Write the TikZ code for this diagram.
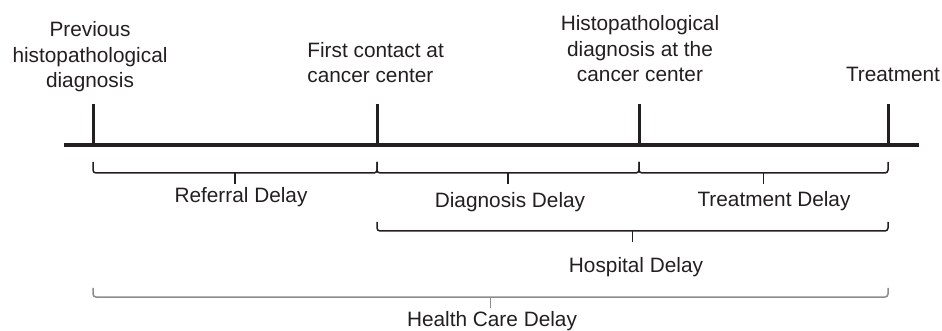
\documentclass[tikz,border=0pt]{standalone}
\usepackage{fontspec}
\setmainfont{Liberation Sans}
\usetikzlibrary{calc}
\definecolor{inkgray}{HTML}{231F20}
\definecolor{outergray}{HTML}{8C8C8C}
\begin{document}
\begin{tikzpicture}[x=0.5pt, y=-0.5pt,
  timeaxis/.style={draw=inkgray, line width=2pt},
  eventtick/.style={draw=inkgray, line width=1.5pt},
  delaybrace/.style={line width=0.75pt, rounded corners=1.5pt},
  every node/.style={text=inkgray, inner sep=0pt, font=\fontsize{10.4}{12.75}\selectfont},
]
\useasboundingbox (0,0) rectangle (942,331);
% time line
\coordinate (start) at (64,145);
\coordinate (stop) at (919,145);
\draw[timeaxis] (start) -- (stop);
% events
\foreach \name/\x in {prev/93, first/377, histo/639, treat/888}{
  \coordinate (\name) at (\x,145);
  \draw[eventtick] (\name) -- ++(0,-41);
}
\node[anchor=base, align=center] (prevlbl) at (90,88) {Previous\\histopathological\\diagnosis};
\node[anchor=base west, align=left] (firstlbl) at (307,83) {First contact at\\cancer center};
\node[anchor=base, align=center] (histolbl) at (640,82) {Histopathological\\diagnosis at the\\cancer center};
\node[anchor=base] (treatlbl) at (893,82) {Treatment};
% delays
\foreach \a/\b/\top/\mid/\col in {prev/first/17/28/inkgray, first/histo/17/28/inkgray, histo/treat/17/28/inkgray,
    first/treat/77/86/inkgray, prev/treat/143/152/outergray}{
  \draw[delaybrace, draw=\col] ($(\a)+(0,\top)$) |- ($(\b)+(0,\mid)$) -- ($(\b)+(0,\top)$);
  \draw[delaybrace, draw=\col] ($(\a)!0.5!(\b)+(0,\mid)$) -- ++(0,11);
}
\node[anchor=base] (referral) at (241,203) {Referral Delay};
\node[anchor=base] (diagnosis) at (510,208) {Diagnosis Delay};
\node[anchor=base] (treatment) at (774,207) {Treatment Delay};
\node[anchor=base] (hospital) at (636,272) {Hospital Delay};
\node[anchor=base] (healthcare) at (492,326) {Health Care Delay};
\end{tikzpicture}
\end{document}
